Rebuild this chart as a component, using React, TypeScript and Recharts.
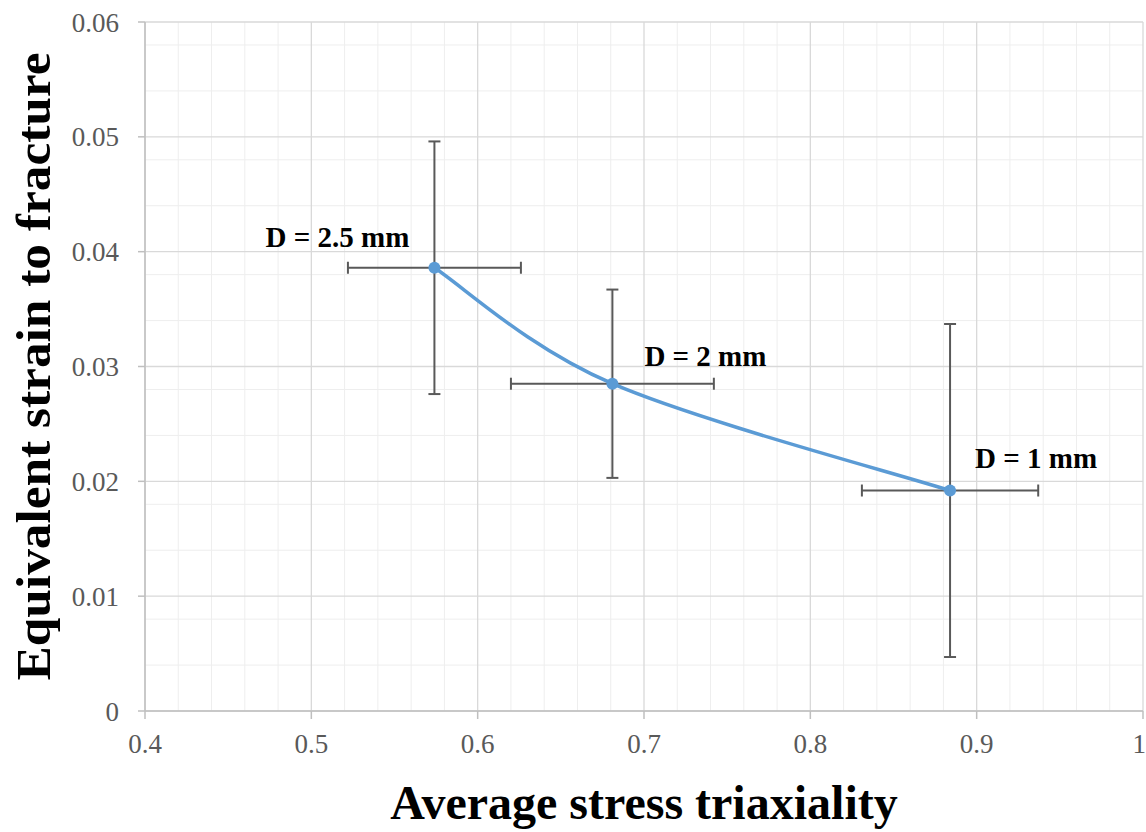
import {
  ComposedChart, Line, Scatter, ErrorBar, XAxis, YAxis, CartesianGrid, LabelList, Label,
} from "recharts";

// Measured points (stress triaxiality vs. strain to fracture) with error spans
const TRIAXIALITY = [0.574, 0.681, 0.884];
const STRAIN = [0.0386, 0.0285, 0.0192];
const TRIAX_ERR = [0.052, 0.061, 0.053];
const STRAIN_ERR = [0.011, 0.0082, 0.0145];
const DIAMETERS = ["D = 2.5 mm", "D = 2 mm", "D = 1 mm"];

const X_TICKS = [0.4, 0.5, 0.6, 0.7, 0.8, 0.9, 1];
const Y_TICKS = [0, 0.01, 0.02, 0.03, 0.04, 0.05, 0.06];

const SERIF = '"Liberation Serif", "Times New Roman", serif';
const BLUE = "#5B9BD5";
const ERR_GREY = "#595959";
const AXIS_GREY = "#BFBFBF";

// label placement relative to each point (style only)
const LABEL_OFFSETS = [
  { dx: -25, dy: -21, anchor: "end" },
  { dx: 32, dy: -18, anchor: "start" },
  { dx: 25, dy: -23, anchor: "start" },
];

const data = TRIAXIALITY.map((x, i) => ({
  x,
  y: STRAIN[i],
  ex: TRIAX_ERR[i],
  ey: STRAIN_ERR[i],
  label: DIAMETERS[i],
}));

// minor gridlines: 5 subdivisions between each major tick
const subdivide = (ticks: number[]) => {
  const out: number[] = [];
  for (let i = 0; i < ticks.length - 1; i++) {
    const step = (ticks[i + 1] - ticks[i]) / 5;
    for (let k = 1; k < 5; k++) out.push(+(ticks[i] + step * k).toFixed(5));
  }
  return out;
};
const X_MINOR = subdivide(X_TICKS);
const Y_MINOR = subdivide(Y_TICKS);

// Excel-style "smoothed line": Catmull-Rom beziers, endpoints duplicated
const excelSmooth = (context: any) => {
  let pts: [number, number][] = [];
  return {
    areaStart() {},
    areaEnd() {},
    lineStart() {
      pts = [];
    },
    point(x: number, y: number) {
      pts.push([+x, +y]);
    },
    lineEnd() {
      if (!pts.length) return;
      context.moveTo(pts[0][0], pts[0][1]);
      for (let i = 0; i < pts.length - 1; i++) {
        const p0 = pts[Math.max(i - 1, 0)];
        const p1 = pts[i];
        const p2 = pts[i + 1];
        const p3 = pts[Math.min(i + 2, pts.length - 1)];
        context.bezierCurveTo(
          p1[0] + (p2[0] - p0[0]) / 6,
          p1[1] + (p2[1] - p0[1]) / 6,
          p2[0] - (p3[0] - p1[0]) / 6,
          p2[1] - (p3[1] - p1[1]) / 6,
          p2[0],
          p2[1],
        );
      }
    },
  };
};

const renderDiameter = (props: any) => {
  const { x, y, value } = props;
  const i = DIAMETERS.indexOf(value);
  const off = LABEL_OFFSETS[i] ?? LABEL_OFFSETS[0];
  return (
    <text
      x={x + off.dx}
      y={y + off.dy}
      textAnchor={off.anchor}
      fontFamily={SERIF}
      fontWeight="bold"
      fontSize={29}
      fill="#000"
    >
      {value}
    </text>
  );
};

const YTitle = (props: any) => {
  const { viewBox } = props;
  const cx = 50;
  const cy = viewBox.y + viewBox.height / 2;
  return (
    <text
      x={cx}
      y={cy}
      transform={`rotate(-90, ${cx}, ${cy})`}
      textAnchor="middle"
      fontFamily={SERIF}
      fontWeight="bold"
      fontSize={49}
      textLength={628}
      lengthAdjust="spacingAndGlyphs"
      fill="#000"
    >
      Equivalent strain to fracture
    </text>
  );
};

const XTitle = (props: any) => {
  const { viewBox } = props;
  return (
    <text
      x={viewBox.x + viewBox.width / 2}
      y={viewBox.y + 108}
      textAnchor="middle"
      fontFamily={SERIF}
      fontWeight="bold"
      fontSize={48}
      fill="#000"
    >
      Average stress triaxiality
    </text>
  );
};

const TICK = { fontSize: 27, fill: ERR_GREY, fontFamily: SERIF } as const;

export default function App() {
  return (
    <div style={{ position: "absolute", left: 0, top: 0, width: 1146, height: 832, background: "#fff" }}>
      <ComposedChart width={1146} height={832} data={data} margin={{ top: 22, right: 3, bottom: 0, left: 0 }}>
        <CartesianGrid stroke="#EEEEEE" strokeWidth={1} horizontalValues={Y_MINOR} verticalValues={X_MINOR} />
        <CartesianGrid stroke="#D9D9D9" strokeWidth={1.3} horizontalValues={Y_TICKS} verticalValues={X_TICKS} />
        <XAxis
          type="number"
          dataKey="x"
          domain={[0.4, 1]}
          ticks={X_TICKS}
          allowDataOverflow
          height={121}
          stroke={AXIS_GREY}
          strokeWidth={1.5}
          tickSize={8}
          tickMargin={15}
          tick={TICK}
        >
          <Label content={<XTitle />} />
        </XAxis>
        <YAxis
          type="number"
          domain={[0, 0.06]}
          ticks={Y_TICKS}
          allowDataOverflow
          width={145}
          stroke={AXIS_GREY}
          strokeWidth={1.5}
          tickSize={7}
          tickMargin={19}
          tick={TICK}
        >
          <Label content={<YTitle />} />
        </YAxis>
        <Scatter dataKey="y" fill="none" shape={() => <g />} isAnimationActive={false}>
          <ErrorBar dataKey="ey" direction="y" width={6} stroke={ERR_GREY} strokeWidth={2} isAnimationActive={false} />
          <ErrorBar dataKey="ex" direction="x" width={6} stroke={ERR_GREY} strokeWidth={2} isAnimationActive={false} />
        </Scatter>
        <Line
          type={excelSmooth as any}
          dataKey="y"
          stroke={BLUE}
          strokeWidth={3.5}
          dot={{ r: 6, fill: BLUE, stroke: "none" }}
          activeDot={false}
          isAnimationActive={false}
        >
          <LabelList dataKey="label" content={renderDiameter} />
        </Line>
      </ComposedChart>
    </div>
  );
}
